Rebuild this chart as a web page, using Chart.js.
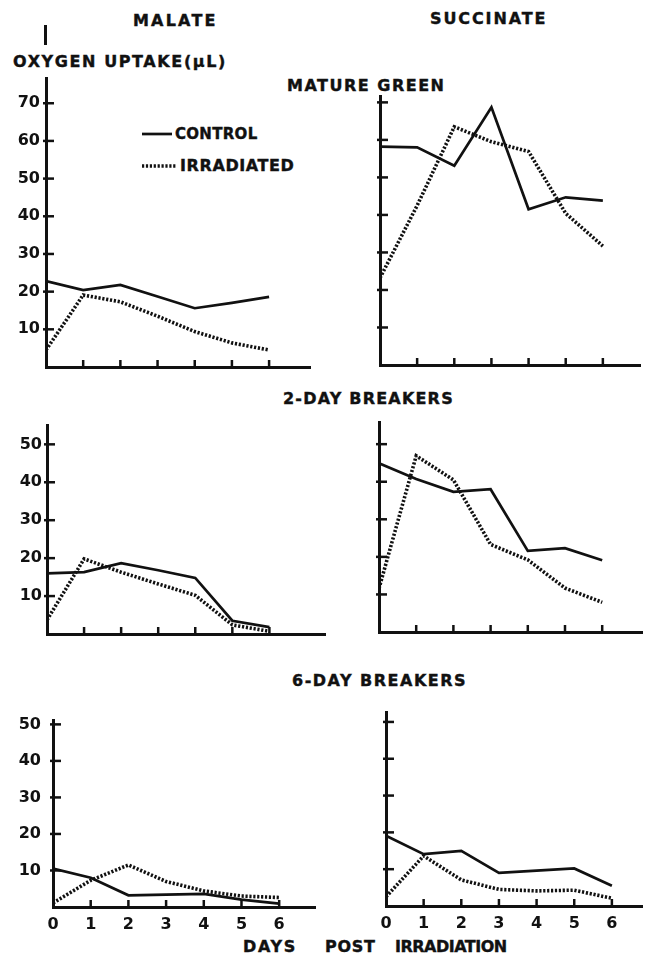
<!DOCTYPE html>
<html>
<head>
<meta charset="utf-8">
<script src="https://cdn.jsdelivr.net/npm/chart.js@4.4.1/dist/chart.umd.min.js"></script>
<style>
  body{margin:0;background:#fff;width:651px;height:957px;position:relative;overflow:hidden;
       font-family:'DejaVu Sans',sans-serif;font-weight:bold;color:#111}
  .lbl{position:absolute;white-space:pre;font-size:16px;line-height:16px;-webkit-text-stroke:0.4px #111}
  canvas{position:absolute}
</style>
</head>
<body>
<div class="lbl" style="left:133px;top:13px;letter-spacing:2.2px">MALATE</div>
<div class="lbl" style="left:430px;top:11px;letter-spacing:1.9px">SUCCINATE</div>
<div style="position:absolute;left:44px;top:25px;width:2.5px;height:20px;background:#111"></div>
<div class="lbl" style="left:13px;top:54px;letter-spacing:1.6px">OXYGEN UPTAKE(μL)</div>
<div class="lbl" style="left:287px;top:78px;letter-spacing:1.5px">MATURE GREEN</div>
<div class="lbl" style="left:283px;top:391px;letter-spacing:1.2px">2-DAY BREAKERS</div>
<div class="lbl" style="left:292px;top:673px;letter-spacing:1.5px">6-DAY BREAKERS</div>
<div class="lbl" style="left:243px;top:939px;letter-spacing:1.7px">DAYS</div>
<div class="lbl" style="left:325px;top:939px;letter-spacing:0.7px">POST</div>
<div class="lbl" style="left:395px;top:939px;letter-spacing:-0.5px">IRRADIATION</div>
<div id="legend"></div>
<script>
const INK='#111';

// days after irradiation (x axis)
const days=[0,1,2,3,4,5,6];
const seriesNames=['CONTROL','IRRADIATED'];
const ticksGreen=[10,20,30,40,50,60,70];
const ticksBreakers=[10,20,30,40,50];

// oxygen uptake, microlitres
const malateGreenControl=[22.8,20.4,21.8,18.7,15.6,17.0,18.6];
const malateGreenIrradiated=[4.5,19.1,17.3,13.5,9.4,6.4,4.5];
const succinateGreenControl=[58.2,58.0,53.1,68.7,41.5,44.7,43.8];
const succinateGreenIrradiated=[23.2,42.5,63.5,59.5,56.9,40.4,31.7];

const malate2dControl=[16.0,16.3,18.7,16.8,14.8,3.5,1.8];
const malate2dIrradiated=[3.7,19.8,16.3,13.2,10.2,2.4,0.7];
const succinate2dControl=[44.9,40.7,37.3,38.0,21.6,22.3,19.1];
const succinate2dIrradiated=[11.6,46.9,40.5,23.3,19.2,11.7,7.9];

const malate6dControl=[10.5,8.0,3.2,3.4,3.6,2.0,0.9];
const malate6dIrradiated=[1.1,7.3,11.5,7.0,4.4,3.0,2.6];
const succinate6dControl=[19.1,14.1,15.0,9.0,9.6,10.2,5.5];
const succinate6dIrradiated=[2.5,13.6,7.1,4.5,4.1,4.3,2.1];

// panel frames on the page (axis corner + far ends) and the value range each spans
const panels=[
  {box:[46,78,310,367], yMax:76.7, xMax:7.1, yTicks:ticksGreen, yLabels:true, labelGap:6, xLabels:false, c:malateGreenControl, i:malateGreenIrradiated},
  {box:[380,96,640,365], yMax:71.7, xMax:7.0, yTicks:ticksGreen, yLabels:false, labelGap:6, xLabels:false, c:succinateGreenControl, i:succinateGreenIrradiated},
  {box:[47,425,325,634], yMax:55.1, xMax:7.5, yTicks:ticksBreakers, yLabels:true, labelGap:5, xLabels:false, c:malate2dControl, i:malate2dIrradiated},
  {box:[379,422,642,632], yMax:55.9, xMax:7.07, yTicks:ticksBreakers, yLabels:false, labelGap:6, xLabels:false, c:succinate2dControl, i:succinate2dIrradiated},
  {box:[53,720,315,907], yMax:51.2, xMax:6.95, yTicks:ticksBreakers, yLabels:true, labelGap:12, xLabels:true, c:malate6dControl, i:malate6dIrradiated},
  {box:[386,712,642,906], yMax:52.7, xMax:6.8, yTicks:ticksBreakers, yLabels:false, labelGap:6, xLabels:true, c:succinate6dControl, i:succinate6dIrradiated}
];

Chart.defaults.font.family="'DejaVu Sans', sans-serif";
Chart.defaults.font.weight='bold';
Chart.defaults.font.size=16;
Chart.defaults.color=INK;

// short tick marks drawn inside the axes
const tickMarks={id:'tickMarks',afterDraw(chart){
  const {ctx,chartArea:a,scales:{x,y}}=chart;
  ctx.save();ctx.strokeStyle=INK;ctx.lineWidth=2.5;
  y.ticks.forEach(t=>{const py=y.getPixelForValue(t.value);
    ctx.beginPath();ctx.moveTo(a.left-3,py);ctx.lineTo(a.left+8,py);ctx.stroke();});
  x.ticks.forEach(t=>{if(t.value===0) return;const px=x.getPixelForValue(t.value);
    ctx.beginPath();ctx.moveTo(px,a.bottom+1);ctx.lineTo(px,a.bottom-7);ctx.stroke();});
  ctx.restore();
}};

const pts=arr=>arr.map((v,k)=>({x:days[k],y:v}));

// fixed axis sizes, and no extra room kept for overhanging tick labels
function fixSize(prop,val){
  return s=>{s[prop]=val;s.paddingTop=0;s.paddingBottom=0;s.paddingLeft=0;s.paddingRight=0;};
}

function makePanel(p){
  const yAxisW=46, xAxisH=30, pad=4;
  const [l,t,r,b]=p.box;
  const cv=document.createElement('canvas');
  cv.width=r-l+yAxisW+pad; cv.height=b-t+xAxisH+pad;
  cv.style.left=(l-yAxisW)+'px'; cv.style.top=(t-pad)+'px';
  document.body.appendChild(cv);
  return new Chart(cv,{
    type:'line',
    data:{datasets:[
      {label:seriesNames[0],data:pts(p.c),borderColor:INK,borderWidth:2.7,pointRadius:0,tension:0},
      {label:seriesNames[1],data:pts(p.i),borderColor:INK,borderWidth:3.6,borderDash:[2.2,1.7],pointRadius:0,tension:0}
    ]},
    options:{
      responsive:false,animation:false,
      layout:{padding:{top:pad,right:pad,left:0,bottom:0}},
      plugins:{legend:{display:false},tooltip:{enabled:false}},
      scales:{
        x:{type:'linear',min:0,max:p.xMax,
           afterFit:fixSize('height',xAxisH),
           afterBuildTicks:s=>{s.ticks=days.map(v=>({value:v}));},
           ticks:{display:p.xLabels,padding:8,maxRotation:0,autoSkip:false},
           grid:{display:false,drawTicks:false},
           border:{color:INK,width:3}},
        y:{min:0,max:p.yMax,
           afterFit:fixSize('width',yAxisW),
           afterBuildTicks:s=>{s.ticks=p.yTicks.map(v=>({value:v}));},
           ticks:{display:p.yLabels,padding:p.labelGap,autoSkip:false},
           grid:{display:false,drawTicks:false},
           border:{color:INK,width:3}}
      }
    },
    plugins:[tickMarks]
  });
}

const charts=panels.map(makePanel);

// key for the two treatments, placed inside the first panel
const keyPos=[{x:142,y:134,w:30,sp:'0.3px',size:15},{x:142,y:166,w:35,sp:'0.6px',size:16}];
const legend=document.getElementById('legend');
charts[0].data.datasets.forEach((ds,k)=>{
  const kp=keyPos[k];
  const line=document.createElement('canvas');
  line.width=kp.w;line.height=6;
  line.style.left=kp.x+'px';line.style.top=(kp.y-3)+'px';
  const c=line.getContext('2d');
  c.strokeStyle=INK;c.lineWidth=ds.borderWidth;
  if(ds.borderDash) c.setLineDash(ds.borderDash);
  c.beginPath();c.moveTo(0,3);c.lineTo(kp.w,3);c.stroke();
  legend.appendChild(line);
  const txt=document.createElement('div');
  txt.className='lbl';txt.textContent=ds.label;
  txt.style.fontSize=kp.size+'px';
  txt.style.left=(kp.x+kp.w+3)+'px';txt.style.top=(kp.y-8)+'px';
  txt.style.letterSpacing=kp.sp;
  legend.appendChild(txt);
});
</script>
</body>
</html>
